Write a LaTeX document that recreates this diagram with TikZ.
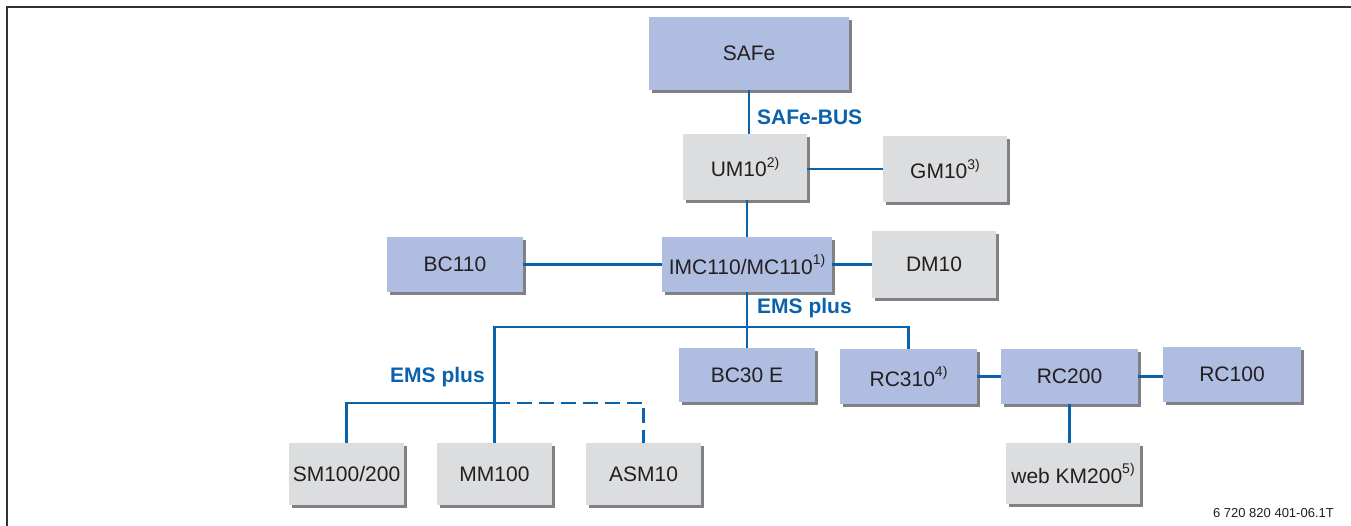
\documentclass[tikz,border=0pt]{standalone}
\usepackage{fontspec}
\setmainfont{Liberation Sans}
\usetikzlibrary{shadows}
\definecolor{boxblue}{RGB}{175,189,225}
\definecolor{boxgray}{RGB}{220,221,223}
\definecolor{shadowgray}{RGB}{128,129,132}
\definecolor{linkblue}{RGB}{10,98,172}
\definecolor{txt}{RGB}{35,31,32}
\definecolor{framecol}{RGB}{50,50,50}
\newcommand\sups[1]{\raisebox{0.45em}{\fontsize{14}{14}\selectfont #1}}
\begin{document}
\begin{tikzpicture}[x=1pt,y=-1pt,
  box/.style={draw=none, inner sep=0pt, text=txt, font=\fontsize{21}{25}\selectfont,
    drop shadow={shadow xshift=3pt, shadow yshift=-3pt, fill=shadowgray, opacity=1}},
  bluebox/.style={box, fill=boxblue},
  graybox/.style={box, fill=boxgray},
  link/.style={draw=linkblue, line width=2.6pt},
  dlink/.style={link, dash pattern=on 15pt off 7pt},
  buslabel/.style={text=linkblue, font=\fontsize{21}{25}\selectfont\bfseries, anchor=west, inner sep=0pt},
]
\useasboundingbox (0,0) rectangle (1351,526);
\draw[framecol, line width=1.8pt] (7,526) -- (7,7) -- (1351,7);

\node[bluebox, minimum width=200pt, minimum height=73pt] (safe) at (749,53.5) {SAFe};
\node[graybox, minimum width=124pt, minimum height=66pt] (um) at (745,167) {UM10\sups{2)}};
\node[graybox, minimum width=124pt, minimum height=66pt] (gm) at (945,169) {GM10\sups{3)}};
\node[bluebox, minimum width=136pt, minimum height=55pt] (bc110) at (455,264.5) {BC110};
\node[bluebox, minimum width=170pt, minimum height=55pt] (imc) at (747,264.5) {IMC110/MC110\sups{1)}};
\node[graybox, minimum width=124pt, minimum height=67pt] (dm) at (934,264.5) {DM10};
\node[bluebox, minimum width=136pt, minimum height=54pt] (bc30) at (747,375) {BC30 E};
\node[bluebox, minimum width=137pt, minimum height=55pt] (rc310) at (908.5,376.5) {RC310\sups{4)}};
\node[bluebox, minimum width=137pt, minimum height=55pt] (rc200) at (1069.5,376.5) {RC200};
\node[bluebox, minimum width=138pt, minimum height=55pt] (rc100) at (1232,374.5) {RC100};
\node[graybox, minimum width=115pt, minimum height=62pt] (sm) at (346.5,474) {SM100/200};
\node[graybox, minimum width=115pt, minimum height=62pt] (mm) at (494.5,474) {MM100};
\node[graybox, minimum width=115pt, minimum height=62pt] (asm) at (643.5,474) {ASM10};
\node[graybox, minimum width=134pt, minimum height=61pt] (km) at (1073,473.5) {web KM200\sups{5)}};

\node[buslabel] (lbus) at (757,117) {SAFe-BUS};
\node[buslabel] (lems1) at (757,308) {EMS plus};
\node[buslabel] (lems2) at (390,377) {EMS plus};

\node[anchor=east, inner sep=0pt, text=txt, font=\fontsize{13}{15}\selectfont] (code) at (1334,513) {6 720 820 401-06.1T};

\coordinate (bus) at (748,327);
\coordinate (lowbus) at (494.5,403);

\draw[link] (safe.south) -- (safe.south |- um.north);
\draw[link] (gm.west) -- (gm.west -| um.east);
\draw[link] (imc.north) -- (imc.north |- um.south);
\draw[link] (bc110.east) -- (imc.west);
\draw[link] (imc.east) -- (dm.west);
\draw[link] (imc.south) -- (bc30.north);
\draw[link] (mm.north) |- (bus) -| (rc310.north);
\draw[link] (rc310.east) -- (rc310.east -| rc200.west);
\draw[link] (rc200.east) -- (rc200.east -| rc100.west);
\draw[link] (rc200.south) -- (rc200.south |- km.north);
\draw[link] (sm.north) |- (lowbus);
\draw[dlink] (lowbus) -| (asm.north);
\end{tikzpicture}
\end{document}
